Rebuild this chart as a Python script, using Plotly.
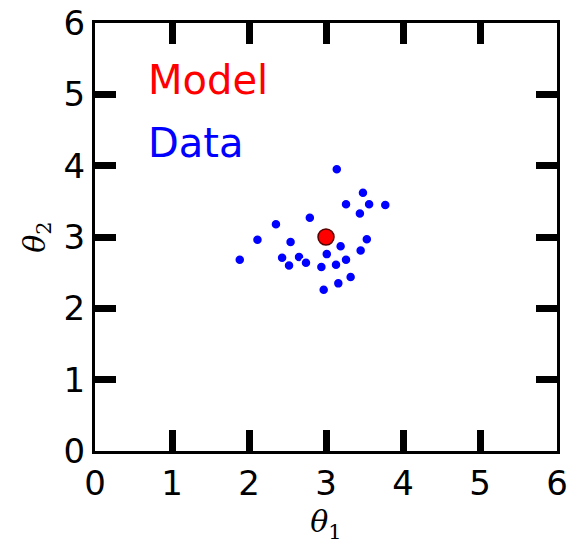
import plotly.graph_objects as go

# Model parameter estimate and simulated data points (theta_1, theta_2)
model_theta1 = [3.0]
model_theta2 = [3.0]

data_theta1 = [3.14, 3.48, 3.26, 3.56, 3.77, 3.44, 2.79, 2.35, 2.11, 3.53,
               2.54, 3.19, 3.45, 1.88, 2.43, 2.65, 3.01, 3.26, 2.52, 2.74,
               2.94, 3.13, 3.32, 3.16, 2.97]
data_theta2 = [3.95, 3.62, 3.46, 3.46, 3.45, 3.33, 3.27, 3.18, 2.96, 2.97,
               2.93, 2.87, 2.81, 2.68, 2.71, 2.72, 2.76, 2.68, 2.60, 2.64,
               2.58, 2.61, 2.44, 2.35, 2.26]

tick_vals = [0, 1, 2, 3, 4, 5, 6]
tick_text = ["0", "1", "2", "3", "4", "5", "6"]

fig = go.Figure()

fig.add_trace(go.Scatter(
    x=data_theta1, y=data_theta2, mode="markers",
    marker=dict(color="#0000ff", size=10, line=dict(color="white", width=1.5)),
    showlegend=False, hoverinfo="skip",
))
fig.add_trace(go.Scatter(
    x=model_theta1, y=model_theta2, mode="markers",
    marker=dict(color="#ff0000", size=16, line=dict(color="#550000", width=1.5)),
    showlegend=False, hoverinfo="skip",
))

fig.add_annotation(x=0.66, y=5.2, text="Model", showarrow=False, xanchor="left",
                   font=dict(family="DejaVu Sans", size=40, color="#ff0000"))
fig.add_annotation(x=0.66, y=4.32, text="Data", showarrow=False, xanchor="left",
                   font=dict(family="DejaVu Sans", size=40, color="#0000ff"))

axis_common = dict(
    range=[0, 6], tickvals=tick_vals, ticktext=tick_text,
    showgrid=False, zeroline=False, automargin=False,
    ticklabeloverflow="allow",
    showline=True, linecolor="black", linewidth=3, mirror="allticks",
    ticks="inside", ticklen=21, tickwidth=7, tickcolor="black",
    tickfont=dict(family="DejaVu Sans", size=34, color="black"),
)

fig.update_xaxes(**axis_common, title=dict(text="<i>θ</i><sub>1</sub>", standoff=10,
                 font=dict(family="DejaVu Serif", size=30, color="black")))
fig.update_yaxes(**axis_common, title=dict(text="<i>θ</i><sub>2</sub>", standoff=10,
                 font=dict(family="DejaVu Serif", size=30, color="black")))

fig.update_layout(
    width=567, height=557,
    margin=dict(l=95, r=10, t=23, b=106),
    paper_bgcolor="white", plot_bgcolor="white",
)

fig.write_html("out.html")
